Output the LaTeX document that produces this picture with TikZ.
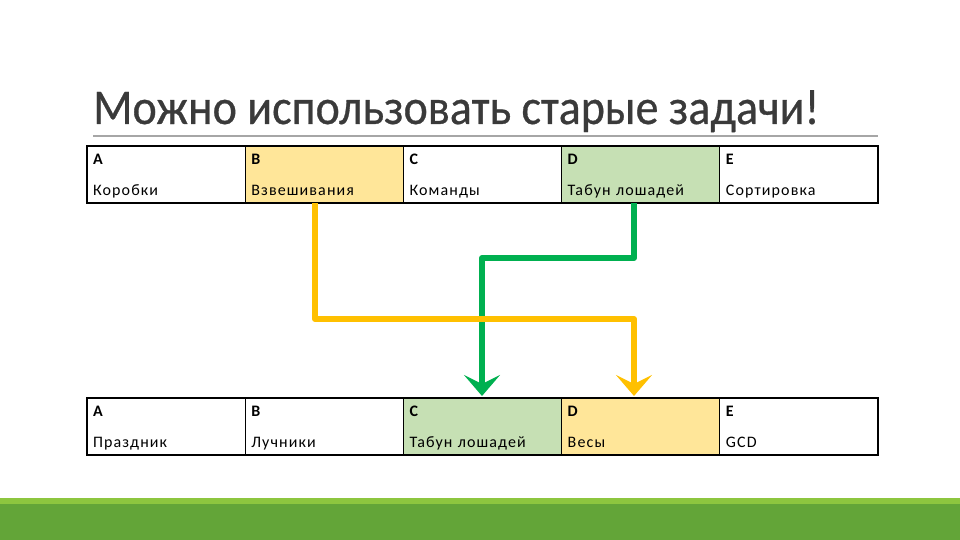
\documentclass[tikz,border=0pt]{standalone}
\usepackage{fontspec}
\setmainfont{Carlito}
\newfontfamily\titlefont[FakeStretch=0.92, FakeBold=0.6]{Carlito}
\newfontfamily\cellfont[LetterSpace=7]{Carlito}
\usetikzlibrary{positioning,arrows.meta}
\definecolor{titlegray}{HTML}{3A3A3A}
\definecolor{rulegray}{HTML}{A6A6A6}
\definecolor{cellyellow}{HTML}{FFE699}
\definecolor{cellgreen}{HTML}{C6E0B4}
\definecolor{arryellow}{HTML}{FFC000}
\definecolor{arrgreen}{HTML}{00B050}
\definecolor{barlight}{HTML}{8DC63F}
\definecolor{bardark}{HTML}{63A538}
\tikzset{
	cell/.style = {rectangle, draw=black, line width=1.2pt, outer sep=0pt, inner ysep=0pt, minimum width=158.2pt, minimum height=57pt, text width=146pt, inner xsep=6pt, align=left, font=\cellfont\fontsize{16}{31.5}\selectfont}, % one box of the table
	link/.style = {line width=6pt, line join=round, -{Stealth[length=21pt, width=36pt, inset=9pt]}, shorten >=2pt}
}
\newcommand{\cellpair}[2]{\rule{0pt}{14.5pt}\textbf{#1}\\#2\rule[-3.8pt]{0pt}{0pt}}
\begin{document}
\begin{tikzpicture}[x=1pt, y=-1pt, node distance=0pt]
            \useasboundingbox (0,0) rectangle (960,540);
            % title
            \node[anchor=base west, inner sep=0pt, text=titlegray, font=\titlefont\fontsize{50}{50}\selectfont] (title) at (93,124) {Можно использовать старые задачи!};
            \draw[rulegray, line width=1.5pt] (93,136) -- (878,136);
            % first table
            \node[cell, anchor=north west] (tA) at (87,146) {\cellpair{A}{Коробки}};
            \node[cell, fill=cellyellow] (tB) [right=of tA] {\cellpair{B}{Взвешивания}};
            \node[cell] (tC) [right=of tB] {\cellpair{C}{Команды}};
            \node[cell, fill=cellgreen] (tD) [right=of tC] {\cellpair{D}{Табун лошадей}};
            \node[cell] (tE) [right=of tD] {\cellpair{E}{Сортировка}};
            % second table
            \node[cell, anchor=north west] (bA) at (87,398) {\cellpair{A}{Праздник}};
            \node[cell] (bB) [right=of bA] {\cellpair{B}{Лучники}};
            \node[cell, fill=cellgreen] (bC) [right=of bB] {\cellpair{C}{Табун лошадей}};
            \node[cell, fill=cellyellow] (bD) [right=of bC] {\cellpair{D}{Весы}};
            \node[cell] (bE) [right=of bD] {\cellpair{E}{GCD}};
            % bends
            \coordinate (g1) at (634,258);
            \coordinate (g2) at (482,258);
            \coordinate (y1) at (315,319);
            \coordinate (y2) at (634,319);
            \draw[link, arrgreen] (g1 |- tD.south) -- (g1) -- (g2) -- (g2 |- bC.north);
            \draw[link, arryellow] (y1 |- tB.south) -- (y1) -- (y2) -- (y2 |- bD.north);
            % green bar
            \fill[barlight] (0,498) rectangle (960,504);
            \fill[bardark] (0,504) rectangle (960,540);
        \end{tikzpicture}
\end{document}
